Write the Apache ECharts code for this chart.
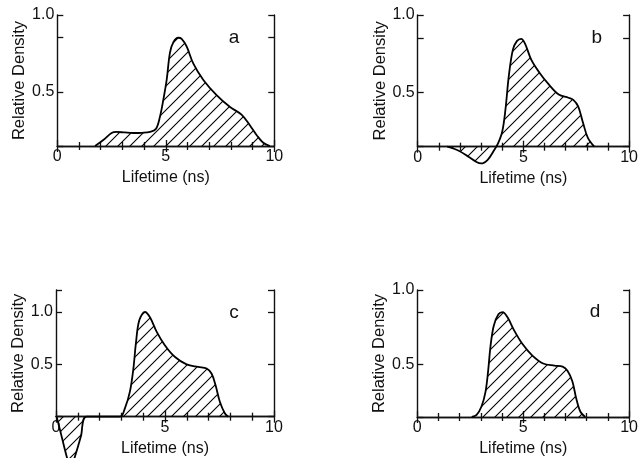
<!DOCTYPE html>
<html>
<head>
<meta charset="utf-8">
<script src="https://cdn.jsdelivr.net/npm/echarts@6/dist/echarts.min.js"></script>
<style>
html,body{margin:0;padding:0;background:#fff;}
#chart{width:641px;height:458px;}
</style>
</head>
<body>
<div id="chart"></div>
<script>
// ---- data (lifetime in ns, relative density) ----
const lifetimeA = [1.74, 2.12, 2.5, 2.73, 3.1, 3.5, 3.9, 4.27, 4.55, 4.73, 4.88, 5.04, 5.19, 5.35, 5.58, 5.73, 5.96, 6.27, 6.73, 7.34, 7.96, 8.49, 8.88, 9.19, 9.49, 9.8];
const densityA  = [0, 0.055, 0.12, 0.13, 0.125, 0.12, 0.122, 0.13, 0.16, 0.27, 0.42, 0.61, 0.86, 0.96, 1.0, 0.99, 0.92, 0.76, 0.61, 0.47, 0.36, 0.29, 0.19, 0.10, 0.03, 0];

const lifetimeB = [1.4, 1.94, 2.4, 2.78, 3.0, 3.31, 3.62, 3.8, 4.0, 4.15, 4.31, 4.5, 4.69, 4.89, 5.07, 5.37, 5.76, 6.21, 6.67, 7.13, 7.36, 7.59, 7.82, 8.05, 8.35];
const densityB  = [0, -0.037, -0.092, -0.14, -0.154, -0.12, -0.03, 0.03, 0.14, 0.34, 0.65, 0.89, 0.97, 0.99, 0.95, 0.80, 0.68, 0.57, 0.48, 0.45, 0.43, 0.37, 0.22, 0.08, 0];

const lifetimeC = [0.03, 0.26, 0.49, 0.66, 0.87, 1.14, 1.4, 2.94, 3.16, 3.39, 3.55, 3.67, 3.82, 4.08, 4.31, 4.62, 5.0, 5.46, 5.99, 6.53, 6.91, 7.14, 7.32, 7.52, 7.75, 7.9];
const densityC  = [0, -0.19, -0.38, -0.5, -0.38, -0.19, 0, 0, 0.08, 0.24, 0.46, 0.71, 0.92, 1.0, 0.95, 0.81, 0.68, 0.57, 0.50, 0.475, 0.46, 0.41, 0.30, 0.14, 0.03, 0];

const lifetimeD = [2.57, 2.8, 3.03, 3.22, 3.34, 3.46, 3.61, 3.83, 4.03, 4.26, 4.56, 4.95, 5.41, 5.94, 6.48, 6.86, 7.09, 7.32, 7.5, 7.7, 7.93];
const densityD  = [0, 0.02, 0.10, 0.24, 0.43, 0.68, 0.87, 0.98, 1.0, 0.95, 0.83, 0.70, 0.59, 0.51, 0.49, 0.48, 0.44, 0.34, 0.18, 0.05, 0];

const panelLetters = ['a', 'b', 'c', 'd'];
const xTickLabels = {0: '0', 5: '5', 10: '10'};
const Y_MAX = 1.21;
const yTickValues = [0, 0.5, 1.0, Y_MAX];
const yTickLabelsA = ['', '0.5', '', '1.0'];
const yTickLabelsB = ['', '0.5', '', '1.0'];
const yTickLabelsC = ['', '0.5', '1.0', ''];
const yTickLabelsD = ['', '0.5', '', '1.0'];
const xAxisTitle = 'Lifetime (ns)';
const yAxisTitle = 'Relative Density';

// ---- layout ----
const grids = [
  {left: 57.3, top: 15, width: 217, height: 131},
  {left: 417.7, top: 15, width: 218.3, height: 131.7},
  {left: 56, top: 290, width: 218, height: 126.7},
  {left: 417.3, top: 290, width: 217.7, height: 127.3}
];
const letterPos = [[234, 38], [596.7, 38], [234, 313], [595, 312]];

const panels = [
  {x: lifetimeA, y: densityA, yl: yTickLabelsA},
  {x: lifetimeB, y: densityB, yl: yTickLabelsB},
  {x: lifetimeC, y: densityC, yl: yTickLabelsC},
  {x: lifetimeD, y: densityD, yl: yTickLabelsD}
];

// hatch pattern "/"
const T = 12;
const cv = document.createElement('canvas');
cv.width = T; cv.height = T;
const cx = cv.getContext('2d');
cx.strokeStyle = '#000';
cx.lineWidth = 1.1;
cx.beginPath();
cx.moveTo(-1, T + 1); cx.lineTo(T + 1, -1);
cx.moveTo(-2, 2); cx.lineTo(2, -2);
cx.moveTo(T - 2, T + 2); cx.lineTo(T + 2, T - 2);
cx.stroke();

const FONT = 'Liberation Sans';
const lineCol = '#111';
const FS = 16;

const xAxes = [], yAxes = [], series = [], graphics = [];
panels.forEach((p, i) => {
  xAxes.push({
    type: 'value', gridIndex: i, position: 'bottom', min: 0, max: 10, interval: 5,
    axisLine: {show: true, lineStyle: {color: lineCol, width: 1.4}},
    axisTick: {show: true, inside: true, length: 6, lineStyle: {color: lineCol, width: 1.3}},
    minorTick: {show: true, splitNumber: 5, length: 4, lineStyle: {color: lineCol, width: 1.3}},
    splitLine: {show: false},
    axisLabel: {show: true, margin: 3, color: '#111', fontFamily: FONT, fontSize: FS,
      formatter: v => xTickLabels[v] !== undefined ? xTickLabels[v] : ''},
    name: xAxisTitle, nameLocation: 'middle', nameGap: 24,
    nameTextStyle: {color: '#111', fontFamily: FONT, fontSize: FS}
  });
  xAxes.push({
    type: 'value', gridIndex: i, position: 'top', min: 0, max: 10, interval: 5,
    axisLine: {show: true, lineStyle: {color: lineCol, width: 1.4}},
    axisTick: {show: true, inside: true, length: 6, lineStyle: {color: lineCol, width: 1.3}},
    minorTick: {show: true, splitNumber: 5, length: 4, lineStyle: {color: lineCol, width: 1.3}},
    splitLine: {show: false}, axisLabel: {show: false}
  });
  const labels = p.yl;
  yAxes.push({
    type: 'value', gridIndex: i, position: 'left', min: 0, max: Y_MAX, interval: 0.5,
    axisLine: {show: true, onZero: false, lineStyle: {color: lineCol, width: 1.4}},
    axisTick: {show: true, inside: true, length: 6, lineStyle: {color: lineCol, width: 1.3}},
    splitLine: {show: false},
    axisLabel: {show: true, margin: 3, color: '#111', fontFamily: FONT, fontSize: FS,
      showMaxLabel: true, showMinLabel: true,
      formatter: v => {
        let k = -1;
        yTickValues.forEach((t, j) => { if (Math.abs(t - v) < 1e-6) k = j; });
        return k >= 0 ? labels[k] : '';
      }},
    name: yAxisTitle, nameLocation: 'middle', nameGap: 29, nameRotate: 90,
    nameTextStyle: {color: '#111', fontFamily: FONT, fontSize: 16.5}
  });
  yAxes.push({
    type: 'value', gridIndex: i, position: 'right', min: 0, max: Y_MAX, interval: 0.5,
    axisLine: {show: true, onZero: false, lineStyle: {color: lineCol, width: 1.4}},
    axisTick: {show: true, inside: true, length: 6, lineStyle: {color: lineCol, width: 1.3}},
    splitLine: {show: false}, axisLabel: {show: false}
  });
  series.push({
    type: 'line', xAxisIndex: i * 2, yAxisIndex: i * 2,
    data: p.x.map((x, j) => [x, p.y[j]]),
    smooth: 0.35, showSymbol: false, symbol: 'none', clip: false,
    lineStyle: {color: '#000', width: 1.8},
    areaStyle: {color: {image: cv, repeat: 'repeat'}, opacity: 1},
    z: 3
  });
  graphics.push({
    type: 'text', x: letterPos[i][0], y: letterPos[i][1],
    style: {text: panelLetters[i], fill: '#111', font: '19px "' + FONT + '"',
      textAlign: 'center', textVerticalAlign: 'middle'}
  });
});

const chart = echarts.init(document.getElementById('chart'), null, {renderer: 'canvas'});
chart.setOption({
  backgroundColor: '#fff',
  animation: false,
  grid: grids.map(g => Object.assign({containLabel: false}, g)),
  xAxis: xAxes,
  yAxis: yAxes,
  series: series,
  graphic: graphics
});
</script>
</body>
</html>
